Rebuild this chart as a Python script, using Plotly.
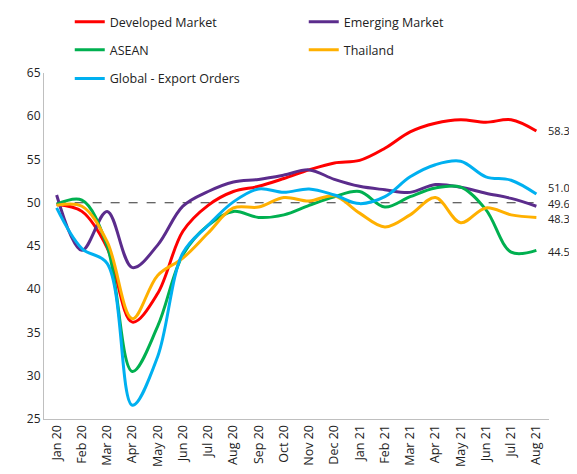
import plotly.graph_objects as go

months = ["Jan 20", "Feb 20", "Mar 20", "Apr 20", "May 20", "Jun 20", "Jul 20", "Aug 20",
          "Sep 20", "Oct 20", "Nov 20", "Dec 20", "Jan 21", "Feb 21", "Mar 21", "Apr 21",
          "May 21", "Jun 21", "Jul 21", "Aug 21"]

developed = [49.8, 49.0, 44.8, 36.2, 39.5, 46.7, 49.7, 51.3, 51.9, 52.8, 53.8, 54.6, 54.9,
             56.3, 58.2, 59.2, 59.6, 59.3, 59.6, 58.3]
emerging = [50.9, 44.5, 49.0, 42.5, 45.1, 49.6, 51.3, 52.4, 52.7, 53.2, 53.8, 52.7, 51.9,
            51.5, 51.2, 52.1, 51.8, 51.1, 50.5, 49.6]
asean = [49.8, 50.3, 45.0, 30.5, 35.7, 44.0, 47.4, 49.0, 48.3, 48.6, 49.7, 50.7, 51.3,
         49.5, 50.7, 51.7, 51.8, 49.2, 44.3, 44.5]
thailand = [49.7, 49.6, 45.5, 36.6, 41.6, 43.6, 46.5, 49.4, 49.5, 50.6, 50.2, 50.8, 48.8,
            47.2, 48.6, 50.6, 47.7, 49.4, 48.6, 48.3]
global_export = [49.4, 44.7, 43.0, 26.6, 32.2, 44.2, 47.4, 50.1, 51.6, 51.2, 51.6, 50.9, 49.9,
                 50.7, 53.0, 54.4, 54.8, 53.0, 52.6, 51.0]
threshold = 50

series = [
    ("Developed Market", developed, "#FF0000", "legend"),
    ("Emerging Market", emerging, "#5B2C8C", "legend"),
    ("ASEAN", asean, "#00B050", "legend2"),
    ("Thailand", thailand, "#FFB000", "legend2"),
    ("Global - Export Orders", global_export, "#00B0F0", "legend3"),
]

fig = go.Figure()
fig.add_trace(go.Scatter(x=months, y=[threshold] * len(months), mode="lines",
                         line=dict(color="#333333", width=1.2, dash="dash"),
                         showlegend=False, hoverinfo="skip"))
for name, vals, color, lg in series:
    fig.add_trace(go.Scatter(x=months, y=vals, name=name, mode="lines",
                             line=dict(color=color, width=3, shape="spline", smoothing=1.0),
                             legend=lg))

# end-value labels (slightly shifted to avoid overlap)
label_offsets = {"Developed Market": 0.0, "Emerging Market": 0.35, "ASEAN": -0.1,
                 "Thailand": -0.1, "Global - Export Orders": 0.8}
for name, vals, color, lg in series:
    fig.add_annotation(x=1.0, xref="paper", y=vals[-1] + label_offsets[name], yref="y",
                       text=f"{vals[-1]:.1f}", showarrow=False, xanchor="left",
                       xshift=-3, font=dict(size=11, color="#222222"))

legend_common = dict(orientation="h", xanchor="left", yanchor="middle", entrywidth=189,
                     entrywidthmode="pixels", font=dict(size=12.5, color="#222222"),
                     bgcolor="rgba(0,0,0,0)", itemclick=False)
fig.update_layout(
    width=561, height=458,
    margin=dict(l=36, r=20, t=65, b=47, autoexpand=False),
    paper_bgcolor="white", plot_bgcolor="white",
    font=dict(family="Open Sans, sans-serif", color="#222222"),
    legend=dict(x=0.051, y=1.147, **legend_common),
    legend2=dict(x=0.051, y=1.066, **legend_common),
    legend3=dict(x=0.051, y=0.983, **legend_common),
    xaxis=dict(type="category", range=[-0.5, len(months) - 0.5], tickangle=-90,
               showline=True, linecolor="#BFBFBF", linewidth=1, showgrid=False,
               ticks="", automargin=False, tickfont=dict(size=12.5, color="#222222")),
    yaxis=dict(range=[25, 65], dtick=5, showline=True, linecolor="#BFBFBF", linewidth=1,
               showgrid=False, zeroline=False, ticks="", automargin=False,
               tickfont=dict(size=12, color="#222222")),
)

fig.write_html("out.html")
